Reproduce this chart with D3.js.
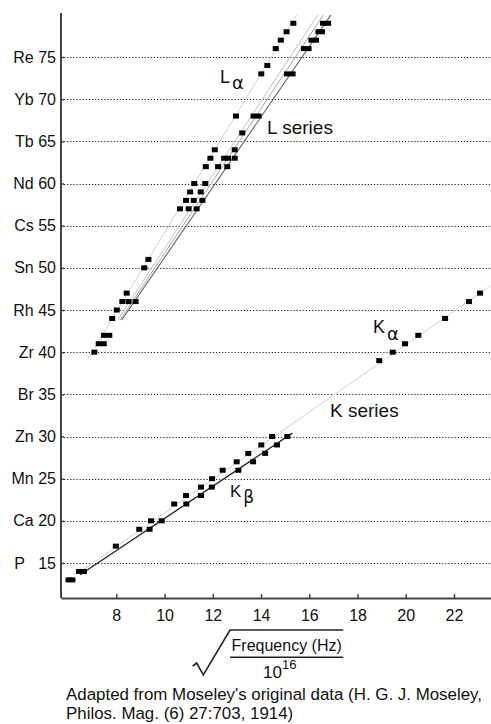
<!DOCTYPE html>
<html>
<head>
<meta charset="utf-8">
<script src="https://cdn.jsdelivr.net/npm/d3@7"></script>
<style>
  html, body { margin: 0; padding: 0; background: #fff; }
  svg { display: block; font-family: "Liberation Sans", Arial, Helvetica, sans-serif; }
</style>
</head>
<body>
<div id="chart"></div>
<script>
// Moseley's data, sqrt(frequency / 1e16) against atomic number Z

// y tick labels (atomic number + element)
var tickZ = [15, 20, 25, 30, 35, 40, 45, 50, 55, 60, 65, 70, 75];
var tickSym = ["P", "Ca", "Mn", "Zn", "Br", "Zr", "Rh", "Sn", "Cs", "Nd", "Tb", "Yb", "Re"];
var xTicks = [8, 10, 12, 14, 16, 18, 20, 22];

// K series points
var kAlphaZ = [13, 14, 17, 19, 20, 22, 23, 24, 25, 26, 27, 28, 29, 30, 39, 40, 41, 42, 44, 46, 47];
var kAlphaX = [6.02, 6.45, 7.98, 8.95, 9.44, 10.40, 10.89, 11.51, 11.97, 12.41, 12.99, 13.47, 14.01, 14.46,
               18.90, 19.46, 19.97, 20.52, 21.63, 22.62, 23.08];
var kBetaZ = [13, 14, 19, 20, 22, 23, 24, 26, 27, 28, 29, 30];
var kBetaX = [6.18, 6.66, 9.38, 9.88, 10.90, 11.51, 11.96, 13.06, 13.67, 14.17, 14.66, 15.09];

// L series points
var lAlphaZ = [40, 41, 42, 44, 45, 46, 47, 50, 51, 57, 58, 59, 60, 62, 63, 64, 68, 73, 74, 76, 77, 78, 79];
var lAlphaX = [7.09, 7.27, 7.49, 7.83, 8.02, 8.25, 8.43, 9.16, 9.33, 10.64, 10.89, 11.06, 11.23, 11.71, 11.90,
               12.08, 12.96, 14.01, 14.26, 14.61, 14.82, 15.06, 15.34];
var lOtherZ = [41, 42, 46, 46, 57, 57, 58, 58, 59, 60, 62, 62, 63, 63, 63, 64, 66, 68, 68, 73, 73,
               76, 76, 77, 77, 78, 78, 79, 79];
var lOtherX = [7.48, 7.71, 8.51, 8.80, 11.00, 11.33, 11.21, 11.57, 11.50, 11.69, 12.22, 12.60, 12.47, 12.63, 12.91,
               12.91, 13.22, 13.69, 13.90, 15.08, 15.31, 15.78, 15.97, 16.09, 16.28, 16.38, 16.53, 16.57, 16.78];

// straight fit lines: [x1, z1, x2, z2]
var fits = [
  {name: "Ka", ends: [6.5, 13.95, 23.5, 47.85], color: "#d0d0d0", w: 1},
  {name: "Kb", ends: [6.5, 13.61, 15.3, 30.4], color: "#2a2a2a", w: 1.4},
  {name: "La", ends: [6.84, 39.3, 15.48, 80.0], color: "#d0d0d0", w: 1},
  {name: "L2", ends: [8.05, 43.8, 16.35, 80.0], color: "#c0c0c0", w: 1},
  {name: "L3", ends: [8.15, 43.8, 16.59, 80.0], color: "#a4a4a4", w: 1},
  {name: "L4", ends: [8.22, 43.8, 16.9, 80.0], color: "#666", w: 1.1}
];

var W = 491, H = 724;
var mLeft = 61, mRight = 491, mTop = 13, mBottom = 598;

var svg = d3.select("#chart").append("svg")
  .attr("width", W)
  .attr("height", H);

var x = d3.scaleLinear().domain([5.707, 23.534]).range([mLeft, mRight]);
var y = d3.scaleLinear().domain([10.85, 80.22]).range([mBottom, mTop]);

// dotted grid lines
svg.append("g")
  .attr("class", "grid")
  .selectAll("path")
  .data(tickZ)
  .join("path")
    .attr("d", function(d) {
      var yy = Math.round(y(d)) + 0.5;
      return "M" + (mLeft + 3) + "," + yy + "H" + mRight;
    })
    .attr("fill", "none")
    .attr("stroke", "#222")
    .attr("stroke-width", 1.2)
    .attr("stroke-dasharray", "1.2,1.9");

// fit lines
svg.append("g")
  .selectAll("line")
  .data(fits)
  .join("line")
    .attr("x1", function(d) { return x(d.ends[0]); })
    .attr("y1", function(d) { return y(d.ends[1]); })
    .attr("x2", function(d) { return x(d.ends[2]); })
    .attr("y2", function(d) { return y(d.ends[3]); })
    .attr("stroke", function(d) { return d.color; })
    .attr("stroke-width", function(d) { return d.w; });

// points
var pts = [];
kAlphaZ.forEach(function(z, i) { pts.push([kAlphaX[i], z]); });
kBetaZ.forEach(function(z, i) { pts.push([kBetaX[i], z]); });
lAlphaZ.forEach(function(z, i) { pts.push([lAlphaX[i], z]); });
lOtherZ.forEach(function(z, i) { pts.push([lOtherX[i], z]); });

svg.append("g")
  .selectAll("rect")
  .data(pts)
  .join("rect")
    .attr("x", function(d) { return x(d[0]) - 3; })
    .attr("y", function(d) { return y(d[1]) - 2.5; })
    .attr("width", 6)
    .attr("height", 5)
    .attr("fill", "#000");

// axes
var yAxis = svg.append("g")
  .attr("transform", "translate(" + mLeft + ",0)")
  .call(d3.axisLeft(y).tickValues(tickZ).tickSize(-3).tickSizeOuter(0).tickPadding(5)
    .tickFormat(function(d, i) {
      return tickSym[i] === "P" ? "P\u00a0\u00a0\u00a0" + d : tickSym[i] + " " + d;
    }));
yAxis.select(".domain").attr("d", "M0," + mTop + "V" + mBottom);

var xAxis = svg.append("g")
  .attr("transform", "translate(0," + mBottom + ")")
  .call(d3.axisBottom(x).tickValues(xTicks).tickSize(-4).tickSizeOuter(0).tickPadding(12));

svg.selectAll(".domain").attr("stroke", "#444").attr("stroke-width", 2);
svg.selectAll(".tick line").attr("stroke", "#444").attr("stroke-width", 1.5);
svg.selectAll(".tick text")
  .attr("font-family", "Liberation Sans, Arial, sans-serif")
  .attr("font-size", 16)
  .attr("fill", "#111");

// series labels
function label(xv, zv, main, sub, size, subDy) {
  var t = svg.append("text")
    .attr("x", x(xv))
    .attr("y", y(zv))
    .attr("font-size", size)
    .attr("fill", "#111");
  t.append("tspan").text(main);
  if (sub) {
    t.append("tspan").attr("dx", 2).attr("dy", subDy).attr("font-family", "DejaVu Sans").text(sub);
  }
}
label(12.30, 71.9, "L", "\u03b1", 18, 6);
label(14.25, 65.87, "L series", null, 19, 0);
label(18.64, 42.27, "K", "\u03b1", 18, 7);
label(16.86, 32.31, "K series", null, 19, 0);
label(12.71, 22.83, "K", "\u03b2", 17, 6);

// x axis title: sqrt(Frequency (Hz) / 10^16)
svg.append("path")
  .attr("d", "M192.7,666 L196.7,663 L203.3,675 L230,630 L343.3,630")
  .attr("fill", "none")
  .attr("stroke", "#222")
  .attr("stroke-width", 1.6);
svg.append("text")
  .attr("x", 286.7)
  .attr("y", 651)
  .attr("text-anchor", "middle")
  .attr("font-size", 16)
  .attr("fill", "#111")
  .text("Frequency (Hz)");
svg.append("line")
  .attr("x1", 230).attr("x2", 343.3)
  .attr("y1", 657.3).attr("y2", 657.3)
  .attr("stroke", "#222")
  .attr("stroke-width", 1.5);
var ten = svg.append("text")
  .attr("x", 263)
  .attr("y", 678)
  .attr("font-size", 17)
  .attr("fill", "#111");
ten.append("tspan").text("10");
ten.append("tspan").attr("dy", -9).attr("font-size", 13).text("16");

// caption
var caption = ["Adapted from Moseley's original data (H. G. J. Moseley,",
               "Philos. Mag. (6) 27:703, 1914)"];
svg.append("g")
  .selectAll("text")
  .data(caption)
  .join("text")
    .attr("x", 66)
    .attr("y", function(d, i) { return 700 + i * 19; })
    .attr("font-size", 16.9)
    .attr("fill", "#111")
    .text(function(d) { return d; });
</script>
</body>
</html>
